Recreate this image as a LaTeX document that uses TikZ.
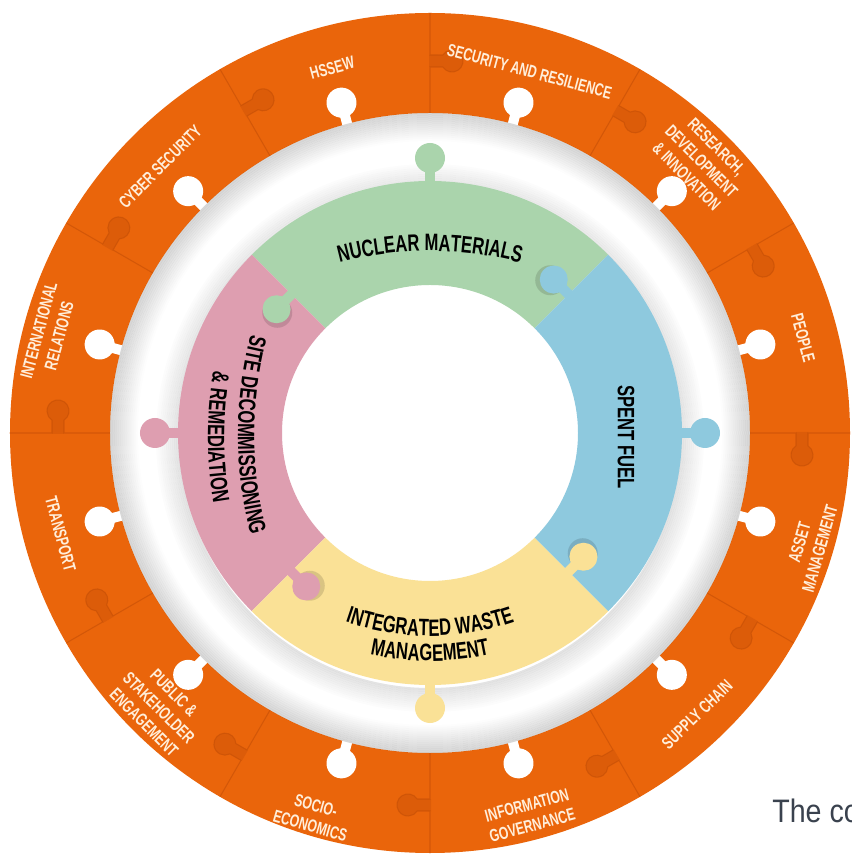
\documentclass[tikz,border=0pt]{standalone}
\usepackage{fontspec}
\usetikzlibrary{decorations.text}
\newfontfamily\condfont[FakeStretch=0.7]{Liberation Sans}
\newfontfamily\capfont[FakeStretch=0.88]{Liberation Sans}
\newcommand{\inlbl}{\condfont\bfseries\fontsize{13.5}{15}\selectfont}
\definecolor{O}{RGB}{234,101,11}
\definecolor{Od}{RGB}{196,78,6}
\definecolor{W}{RGB}{255,238,218}
\definecolor{G}{RGB}{170,212,172}
\definecolor{P}{RGB}{222,158,176}
\definecolor{B}{RGB}{142,201,222}
\definecolor{Y}{RGB}{250,225,150}
\definecolor{T}{RGB}{58,66,78}
\tikzset{
  outlbl/.style={text=W, font=\condfont\bfseries\fontsize{10}{12}\selectfont, align=center, inner sep=0pt},
  inlabel/.style={text=black, font=\inlbl, align=center, inner sep=0pt}
}

\begin{document}
\begin{tikzpicture}[x=0.02cm,y=0.02cm]
	\useasboundingbox (-430,-421) rectangle (421,433);
	\fill[white] (-430,-421) rectangle (421,433);

	%Anillo naranja exterior
	\fill[O, even odd rule] (0,0) circle (420) (0,0) circle (320);

	%Juntas entre piezas (cada 30 grados)
	\foreach \a in {0,30,...,330}{
		\begin{scope}[rotate=\a]
			\fill[Od, opacity=0.35] (366,1) -- (366,-12.8) arc (123:417:11) -- (378,1) -- cycle;
			\draw[Od, opacity=0.6, line width=0.6pt] (320,0) -- (366,0) -- (366,-12.8) arc (123:417:11) -- (378,0) -- (420,0);
		\end{scope}
	}

	%Muescas blancas
	\foreach \a in {15,45,...,345}{
		\fill[white, rotate=\a] (310,-5) rectangle (330,5);
		\fill[white, rotate=\a] (342,0) circle (15);
	}

	%Sombra en el anillo blanco
	\foreach \i in {1,...,14}
		\fill[black, opacity=0.17-0.0115*\i, even odd rule] (0,0) circle (322-2*\i) (0,0) circle (320-2*\i);
	\foreach \i in {1,...,12}
		\fill[black, opacity=0.12-0.009*\i, even odd rule] (0,-5) circle (250+2*\i) (0,-5) circle (248+2*\i);

	%Piezas interiores
	\fill[G] (45:148) arc (45:135:148) -- (135:252) arc (135:45:252) -- cycle;
	\fill[P] (135:148) arc (135:225:148) -- (225:252) arc (225:135:252) -- cycle;
	\fill[Y] (225:148) arc (225:315:148) -- (315:252) arc (315:225:252) -- cycle;
	\fill[B] (-45:148) arc (-45:45:148) -- (45:252) arc (45:-45:252) -- cycle;

	%Salientes hacia fuera
	\fill[G, rotate=90] (245,-5) rectangle (265,5);
	\fill[G, rotate=90] (275,0) circle (15);
	\fill[P, rotate=180] (245,-5) rectangle (265,5);
	\fill[P, rotate=180] (275,0) circle (15);
	\fill[Y, rotate=270] (245,-5) rectangle (265,5);
	\fill[Y, rotate=270] (275,0) circle (15);
	\fill[B] (245,-5) rectangle (265,5);
	\fill[B] (275,0) circle (15);

	%Salientes entre piezas
	\fill[black, opacity=0.13, rotate=135] (193,23) circle (15);
	\fill[G, rotate=135] (191,-2) rectangle (201,10);
	\fill[G, rotate=135] (196,21) circle (14);
	\fill[black, opacity=0.13, rotate=225] (193,23) circle (15);
	\fill[P, rotate=225] (191,-2) rectangle (201,10);
	\fill[P, rotate=225] (196,21) circle (14);
	\fill[black, opacity=0.13, rotate=315] (193,23) circle (15);
	\fill[Y, rotate=315] (191,-2) rectangle (201,10);
	\fill[Y, rotate=315] (196,21) circle (14);
	\fill[black, opacity=0.13, rotate=45] (193,23) circle (15);
	\fill[B, rotate=45] (191,-2) rectangle (201,10);
	\fill[B, rotate=45] (196,21) circle (14);

	%Textos interiores
	\path[decorate, decoration={text along path, text align=center,
		text={|\inlbl|NUCLEAR MATERIALS}}] (0,-168) ++(120:350) arc (120:60:350);
	\path[decorate, decoration={text along path, text align=center,
		text={|\inlbl|SITE DECOMMISSIONING}}] (208,-2) ++(160:400) arc (160:200:400);
	\path[decorate, decoration={text along path, text align=center,
		text={|\inlbl|{\&} REMEDIATION}}] (178,-4) ++(160:400) arc (160:200:400);
	\path[decorate, decoration={text along path, text align=center,
		text={|\inlbl|INTEGRATED WASTE}}] (0,57) ++(245:260) arc (245:295:260);
	\path[decorate, decoration={text along path, text align=center,
		text={|\inlbl|MANAGEMENT}}] (0,57) ++(248:285) arc (248:292:285);
	\node[inlabel, rotate=-90] (spent) at (196,-4) {SPENT FUEL};

	%Textos del anillo naranja
	\node[outlbl, rotate=15] (hssew) at (105:378) {HSSEW};
	\node[outlbl, rotate=-15] (security) at (74.6:375) {SECURITY AND RESILIENCE};
	\node[outlbl, rotate=-45] (research) at (45:384) {RESEARCH,\\DEVELOPMENT\\\& INNOVATION};
	\node[outlbl, rotate=-75] (people) at (14.3:385) {PEOPLE};
	\node[outlbl, rotate=74] (asset) at (-16.5:396) {ASSET\\MANAGEMENT};
	\node[outlbl, rotate=44] (supply) at (-46.5:388) {SUPPLY CHAIN};
	\node[outlbl, rotate=15] (information) at (-75.4:395) {INFORMATION\\GOVERNANCE};
	\node[outlbl, rotate=-16] (socio) at (-107:400) {SOCIO-\\ECONOMICS};
	\node[outlbl, rotate=-45] (public) at (-134.6:386) {PUBLIC \&\\STAKEHOLDER\\ENGAGEMENT};
	\node[outlbl, rotate=-75] (transport) at (-164.7:383) {TRANSPORT};
	\node[outlbl, rotate=75] (international) at (165.3:394) {INTERNATIONAL\\RELATIONS};
	\node[outlbl, rotate=45] (cyber) at (135.4:379) {CYBER SECURITY};

	%Pie cortado
	\node[anchor=base west, text=T, font=\capfont\fontsize{18.5}{20}\selectfont, inner sep=0pt] (caption) at (342,-389) {The co};
\end{tikzpicture}
\end{document}
